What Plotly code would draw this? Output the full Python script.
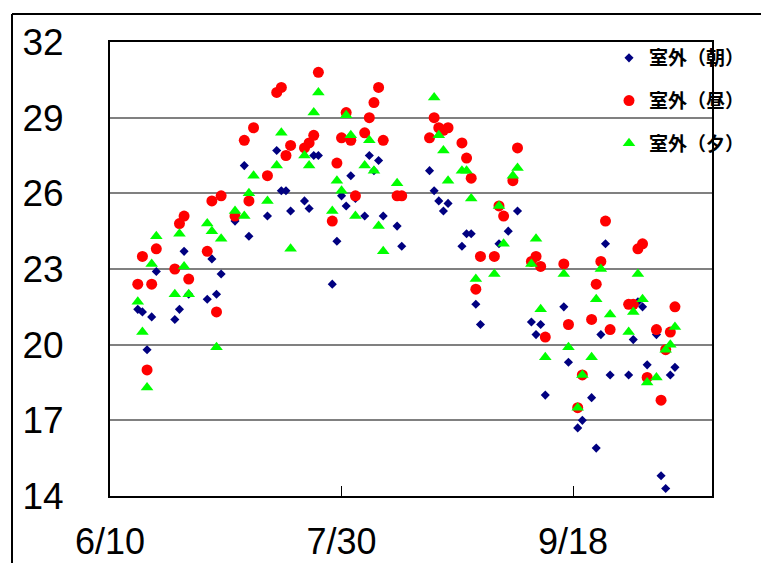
import plotly.graph_objects as go

# Outdoor temperature readings (morning / noon / evening), deg C
dates = [
    "2008-06-16", "2008-06-17", "2008-06-18", "2008-06-19", "2008-06-20",
    "2008-06-24", "2008-06-25", "2008-06-26", "2008-06-27",
    "2008-07-01", "2008-07-02", "2008-07-03", "2008-07-04",
    "2008-07-07", "2008-07-09", "2008-07-10", "2008-07-11",
    "2008-07-14", "2008-07-16", "2008-07-17", "2008-07-18", "2008-07-19",
    "2008-07-22", "2008-07-23", "2008-07-24", "2008-07-25",
    "2008-07-28", "2008-07-29", "2008-07-30", "2008-07-31", "2008-08-01", "2008-08-02",
    "2008-08-04", "2008-08-05", "2008-08-06", "2008-08-07", "2008-08-08",
    "2008-08-11", "2008-08-12",
    "2008-08-18", "2008-08-19", "2008-08-20", "2008-08-21", "2008-08-22",
    "2008-08-25", "2008-08-26", "2008-08-27", "2008-08-28", "2008-08-29",
    "2008-09-01", "2008-09-02", "2008-09-03", "2008-09-04", "2008-09-05", "2008-09-06",
    "2008-09-09", "2008-09-10", "2008-09-11", "2008-09-12",
    "2008-09-16", "2008-09-17", "2008-09-19", "2008-09-20",
    "2008-09-22", "2008-09-23", "2008-09-24", "2008-09-25", "2008-09-26",
    "2008-09-30", "2008-10-01", "2008-10-02", "2008-10-03", "2008-10-04",
    "2008-10-06", "2008-10-07", "2008-10-08", "2008-10-09", "2008-10-10",
]

morning = [
    21.4, 21.3, 19.8, 21.1, 22.9,
    21.0, 21.4, 23.7, 22.0,
    21.8, 23.4, 22.0, 22.8,
    24.9, 27.1, 24.3, None,
    25.1, 27.7, 26.1, 26.1, 25.3,
    25.7, 25.4, 27.5, 27.5,
    22.4, 24.1, 25.9, 25.5, 26.7, 25.8,
    25.1, 27.5, 26.9, 27.3, 25.1,
    24.7, 23.9,
    26.9, 26.1, 25.7, 25.3, 25.6,
    23.9, 24.4, 24.4, 21.6, 20.8,
    None, 24.0, None, 24.5, None, 25.3,
    20.9, 20.4, 20.8, 18.0,
    21.5, 19.3, 16.7, 17.0,
    17.9, 15.9, 20.4, 24.0, 18.8,
    18.8, 20.2, 21.7, 21.5, 19.2,
    20.4, 14.8, 14.3, 18.8, 19.1,
]

noon = [
    22.4, 23.5, 19.0, 22.4, 23.8,
    23.0, 24.8, 25.1, 22.6,
    23.7, 25.7, 21.3, 25.9,
    25.1, 28.1, 25.7, 28.6,
    26.7, 30.0, 30.2, 27.5, 27.9,
    27.8, 28.0, 28.3, 30.8,
    24.9, 27.2, 28.2, 29.2, 28.1, 25.9,
    28.4, 29.0, 29.6, 30.2, 28.1,
    25.9, 25.9,
    28.2, 29.0, 28.6, 28.5, 28.6,
    28.0, 27.4, 26.6, 22.2, 23.5,
    23.5, 25.5, 25.1, None, 26.5, 27.8,
    23.3, 23.5, 23.1, 20.3,
    23.2, 20.8, 17.5, 18.8,
    21.0, 22.4, 23.3, 24.9, 20.6,
    21.6, 21.6, 23.8, 24.0, 18.7,
    20.6, 17.8, 19.8, 20.5, 21.5,
]

evening = [
    21.7, 20.5, 18.3, 23.2, 24.3,
    22.0, 24.4, 23.1, 22.0,
    24.8, 24.5, 19.9, 24.2,
    25.3, 25.1, 26.0, 26.7,
    25.7, 27.1, 28.4, None, 23.8,
    27.5, 27.1, 29.2, 30.0,
    25.3, 26.5, 26.1, 29.1, 28.3, 25.1,
    27.1, 28.1, 26.9, 24.7, 23.7,
    26.4, None,
    None, 29.8, 28.3, 27.7, 26.5,
    26.9, 26.9, 25.8, 22.6, None,
    22.8, 25.5, 24.0, None, 26.7, 27.0,
    23.2, 24.2, 21.4, 19.5,
    22.8, 19.9, 17.5, 18.8,
    19.5, 21.8, 23.0, None, 21.2,
    20.5, 21.3, 22.8, 21.8, 18.5,
    18.7, None, 19.8, 20.0, 20.7,
]

series_names = ["室外（朝）", "室外（昼）", "室外（夕）"]
x_tick_vals = ["2008-06-10", "2008-07-30", "2008-09-18"]
x_tick_text = ["6/10", "7/30", "9/18"]
y_tick_vals = [14, 17, 20, 23, 26, 29, 32]

W, H = 761, 563
ML, MR, MT, MB = 110, 49, 42, 67
PW, PH = W - ML - MR, H - MT - MB


def px_x(px):
    return (px - ML) / PW


def px_y(py):
    return (H - MB - py) / PH


styles = [
    dict(symbol="diamond", size=7, color="#000080"),
    dict(symbol="circle", size=11, color="#FF0000"),
    dict(symbol="triangle-up", size=11, color="#00FF00"),
]

fig = go.Figure()
for name, vals, st in zip(series_names, [morning, noon, evening], styles):
    fig.add_trace(go.Scatter(
        x=dates, y=vals, mode="markers", name=name, legendgroup=name,
        marker=dict(symbol=st["symbol"], size=st["size"], color=st["color"],
                    line=dict(width=0)),
    ))

font_family = "Liberation Sans, Arial, sans-serif"

fig.update_layout(
    width=W, height=H,
    margin=dict(l=ML, r=MR, t=MT, b=MB, pad=0, autoexpand=False),
    paper_bgcolor="white", plot_bgcolor="white",
    showlegend=True,
    legend=dict(
        x=px_x(609), y=px_y(39), xanchor="left", yanchor="top",
        bgcolor="rgba(0,0,0,0)", borderwidth=0,
        font=dict(family="Noto Sans CJK JP", size=19, color="#000000", weight="bold"),
        tracegroupgap=15, itemsizing="trace",
    ),
    xaxis=dict(
        type="date", range=["2008-06-10", "2008-10-18"],
        tickmode="array", tickvals=x_tick_vals, ticktext=x_tick_text,
        ticks="inside", ticklen=10, tickwidth=1, tickcolor="#000000",
        showgrid=False, zeroline=False, automargin=False,
        showline=True, linecolor="#000000", linewidth=2, mirror=True,
        tickfont=dict(family=font_family, size=36, color="#000000"),
        ticklabelstandoff=13,
    ),
    yaxis=dict(
        range=[14, 32], tickmode="array", tickvals=y_tick_vals,
        ticks="", showgrid=True, gridcolor="#808080", gridwidth=1.5,
        zeroline=False, automargin=False,
        showline=True, linecolor="#000000", linewidth=2, mirror=True,
        tickfont=dict(family=font_family, size=37, color="#000000"),
        ticklabelstandoff=37,
    ),
)

# outer chart frame (left and top edges)
frame = dict(color="#000000", width=2)
fig.add_shape(type="line", xref="paper", yref="paper",
              x0=px_x(12), y0=px_y(14), x1=px_x(W + 5), y1=px_y(14), line=frame)
fig.add_shape(type="line", xref="paper", yref="paper",
              x0=px_x(12), y0=px_y(14), x1=px_x(12), y1=px_y(H + 5), line=frame)

fig.write_html("out.html")
